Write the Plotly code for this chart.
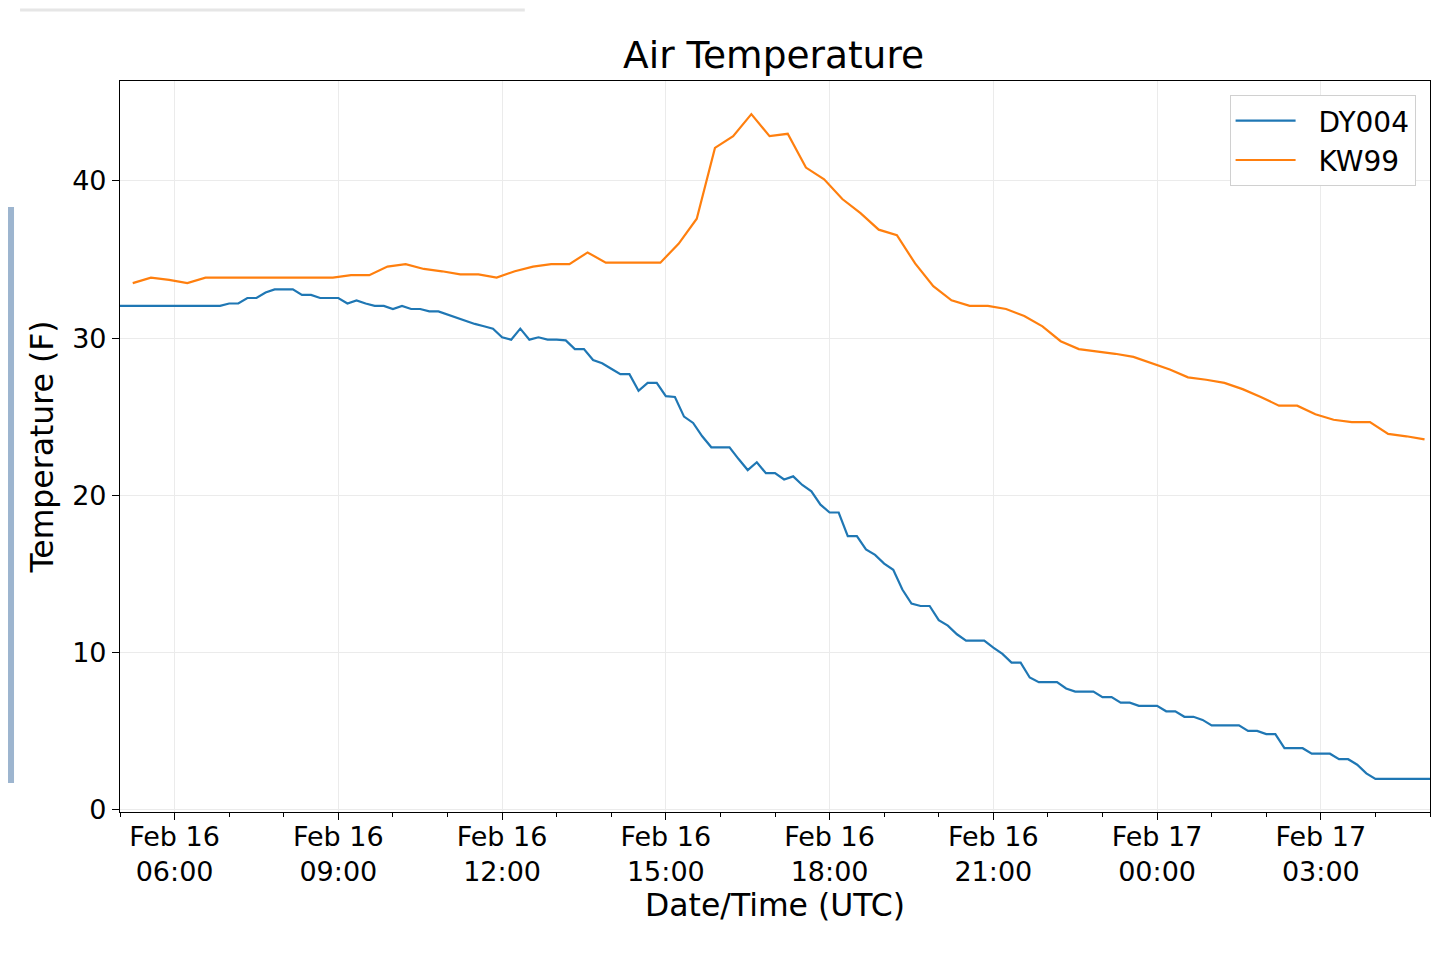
## Air Temperature comparison

import plotly.graph_objects as go
import pandas as pd

# DY004: 10-minute readings, Feb 16 05:00 -> Feb 17 05:00 (UTC)
dy004_start = '2021-02-16 05:00'
dy004_temp = [
    32.05, 32.05, 32.05, 32.05, 32.05, 32.05, 32.05, 32.05, 32.05, 32.05,
    32.05, 32.05, 32.2, 32.2, 32.55, 32.55, 32.9, 33.1, 33.1, 33.1,
    32.75, 32.75, 32.55, 32.55, 32.55, 32.2, 32.4, 32.2, 32.05, 32.05,
    31.85, 32.05, 31.85, 31.85, 31.7, 31.7, 31.5, 31.3, 31.1, 30.9,
    30.75, 30.6, 30.05, 29.9, 30.6, 29.9, 30.05, 29.9, 29.9, 29.85,
    29.3, 29.3, 28.6, 28.4, 28.05, 27.7, 27.7, 26.65, 27.15, 27.15,
    26.3, 26.25, 25.0, 24.6, 23.75, 23.05, 23.05, 23.05, 22.3, 21.6,
    22.1, 21.4, 21.4, 21.0, 21.2, 20.65, 20.25, 19.4, 18.9, 18.9,
    17.4, 17.4, 16.55, 16.2, 15.65, 15.25, 14.0, 13.1, 12.95, 12.95,
    12.05, 11.7, 11.15, 10.75, 10.75, 10.75, 10.3, 9.9, 9.35, 9.35,
    8.4, 8.1, 8.1, 8.1, 7.7, 7.5, 7.5, 7.5, 7.15, 7.15,
    6.8, 6.8, 6.6, 6.6, 6.6, 6.25, 6.25, 5.9, 5.9, 5.7,
    5.35, 5.35, 5.35, 5.35, 5.0, 5.0, 4.8, 4.8, 3.9, 3.9,
    3.9, 3.55, 3.55, 3.55, 3.2, 3.2, 2.85, 2.3, 1.95, 1.95,
    1.95, 1.95, 1.95, 1.95, 1.95,
]

# KW99: 20-minute readings (:14, :34, :54)
kw99_start = '2021-02-16 05:14'
kw99_temp = [
    33.5, 33.85, 33.7, 33.5, 33.85, 33.85, 33.85, 33.85, 33.85, 33.85,
    33.85, 33.85, 34.0, 34.0, 34.55, 34.7, 34.4, 34.25, 34.05, 34.05,
    33.85, 34.25, 34.55, 34.7, 34.7, 35.45, 34.8, 34.8, 34.8, 34.8,
    36.0, 37.6, 42.1, 42.85, 44.25, 42.85, 43.0, 40.85, 40.1, 38.85,
    37.95, 36.9, 36.55, 34.75, 33.3, 32.4, 32.05, 32.05, 31.85, 31.4,
    30.75, 29.8, 29.3, 29.15, 29.0, 28.8, 28.4, 28.0, 27.5, 27.35,
    27.15, 26.75, 26.25, 25.7, 25.7, 25.15, 24.8, 24.65, 24.65, 23.9,
    23.75, 23.55,
]

dy004 = pd.DataFrame({'date': pd.date_range(dy004_start, periods=len(dy004_temp), freq='10min'),
                      'temp': dy004_temp})
kw99 = pd.DataFrame({'date': pd.date_range(kw99_start, periods=len(kw99_temp), freq='20min'),
                     'temp': kw99_temp})

dfs = {'DY004': (dy004, '#1f77b4'), 'KW99': (kw99, '#ff7f0e')}

fig = go.Figure()
for name in dfs:
    df, col = dfs[name]
    # nbsp pads the gap between legend line and label like matplotlib does
    fig.add_trace(go.Scatter(x=df['date'], y=df['temp'], name='\u00a0\u00a0' + name, mode='lines',
                             line=dict(color=col, width=2.2)))

font = 'DejaVu Sans, Liberation Sans, sans-serif'
# page body has an 8px margin, so the figure is 8px smaller than the window
fig.update_layout(
    width=1431, height=947,
    margin=dict(l=112, r=9, t=73, b=143),
    paper_bgcolor='white', plot_bgcolor='white',
    font=dict(family=font, color='black', size=27),
    title=dict(text='Air Temperature', x=0.535, xanchor='center', y=0.951, yanchor='middle',
               font=dict(size=37.5)),
    legend=dict(x=0.989, y=0.981, xanchor='right', yanchor='top',
                bgcolor='white', bordercolor='#d0d0d0', borderwidth=1,
                font=dict(size=28), itemwidth=60, tracegroupgap=0),
    showlegend=True,
)
fig.update_xaxes(
    range=['2021-02-16 05:00', '2021-02-17 05:00'],
    tick0='2021-02-16 06:00', dtick=3 * 3600 * 1000,
    tickformat='%b %d<br>%H:%M', tickfont=dict(size=27), ticklabelstandoff=-7,
    ticks='outside', ticklen=7, tickwidth=1, tickcolor='black',
    minor=dict(dtick=3600 * 1000, ticks='outside', ticklen=4, tickcolor='black', showgrid=False),
    showgrid=True, gridcolor='#ebebeb', gridwidth=1,
    showline=True, linecolor='black', linewidth=1.2, mirror=True,
    title=dict(text='Date/Time (UTC)', font=dict(size=31.5), standoff=4),
    zeroline=False,
)
fig.update_yaxes(
    range=[-0.16, 46.36],
    tickvals=[0, 10, 20, 30, 40], tickfont=dict(size=27),
    ticks='outside', ticklen=7, tickwidth=1, tickcolor='black',
    showgrid=True, gridcolor='#ebebeb', gridwidth=1,
    showline=True, linecolor='black', linewidth=1.2, mirror=True,
    title=dict(text='Temperature (F)', font=dict(size=31.5), standoff=9),
    zeroline=False,
)

# screenshot leftovers: faint bar at top, blue-grey tab on the left edge
fig.add_shape(type='line', xref='paper', yref='paper', x0=-0.0763, x1=0.309, y0=1.097, y1=1.097,
              line=dict(color='#e6e6e6', width=3))
fig.add_shape(type='rect', xref='paper', yref='paper', x0=-0.095, x1=-0.0809, y0=0.0397, y1=0.8277,
              fillcolor='#9db5cf', line=dict(width=0))

fig.write_html('out.html')
